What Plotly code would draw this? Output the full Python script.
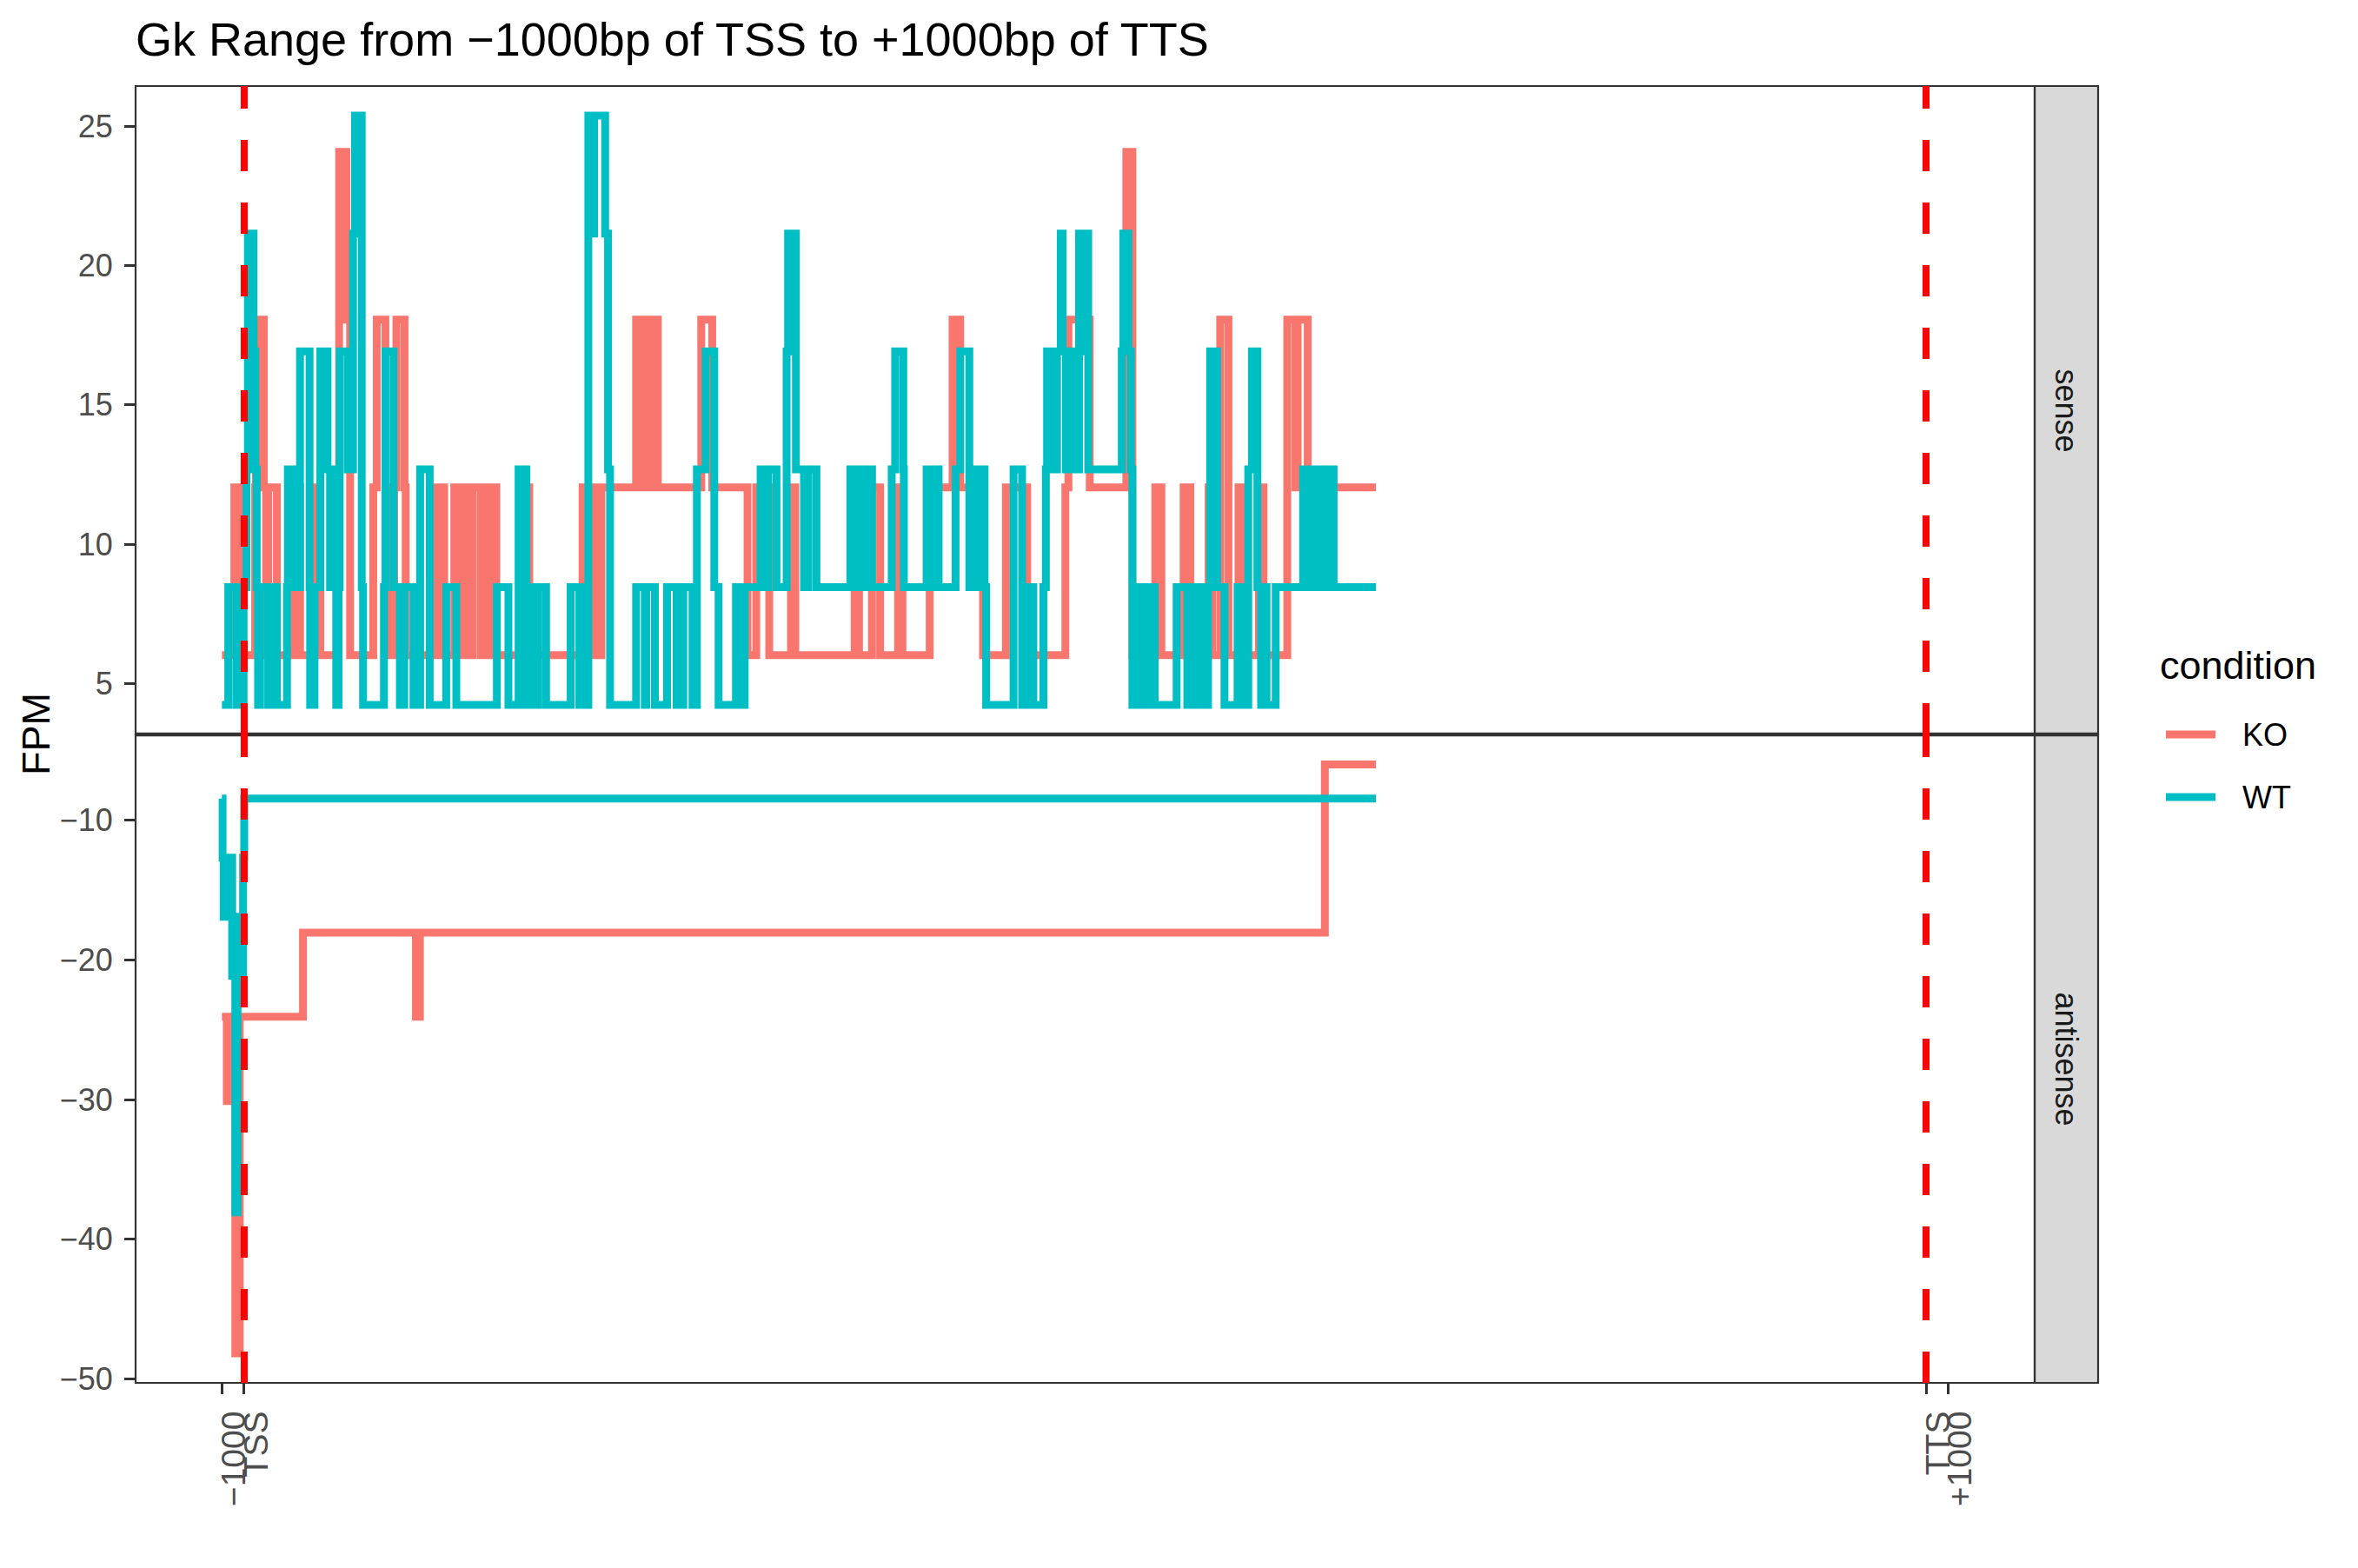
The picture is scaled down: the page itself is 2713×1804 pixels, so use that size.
import plotly.graph_objects as go

# ---------------- data (positions in bp relative to TSS, values in FPM) ----------------
gene_length = 75420          # TSS -> TTS distance (bp)
data_end = 50750             # last covered position

x_tick_pos = [-1000, 0, gene_length, gene_length + 1000]
x_tick_labels = ["\u22121000", "TSS", "TTS", "+1000"]

sense_ticks = [5, 10, 15, 20, 25]
antisense_ticks = [-50, -40, -30, -20, -10]
antisense_tick_labels = ["\u221250", "\u221240", "\u221230", "\u221220", "\u221210"]

# WT, sense strand: step starts and values
wt_sense_pos = [-1000, -716, -352, -28, 102, 167, 420, 500, 560, 621, 712, 1075, 1114, 1465,
                1919, 1958, 2244, 2503, 2931, 2957, 3152, 3412, 3736, 3850, 3950, 4126,
                4230, 4280, 4645, 4880, 4969, 5270, 5330, 6267, 6332, 6696, 6981, 7176, 7591,
                7890, 8318, 9058, 9512, 11330, 11849, 12303, 12653, 12757, 13100, 13180, 13536,
                14639, 15029, 15173, 15330, 15432, 15627, 15692, 16185, 16315, 16406,
                17574, 17964, 18028, 18418, 18963, 19391, 19690, 20105,
                20300, 20689, 21079, 21273, 22052, 22150, 22250, 22350, 22442,
                23156, 23400, 23500, 23870, 24324, 24389, 24740, 25103, 25297, 25661,
                27179, 27504, 27569, 27850, 27900, 28153, 29036, 29191, 29555, 29581,
                30600, 30850, 30900, 31140, 31900, 32107, 32517, 32859, 33200, 33269,
                34499, 34882, 35046, 35388, 35839, 35950, 36003, 36150, 36230, 36380, 36450,
                36618, 36700, 36850, 36920, 37165, 37438, 37600, 37700, 37848,
                39352, 39420, 39650, 39762, 39830, 39899, 40241, 40582, 40828,
                41812, 42291, 42428, 42700, 42760, 43043, 43221, 43316, 43630, 43959,
                44546, 44888, 45025, 45189, 45435, 45600, 45650, 45845, 46255,
                47486, 47750, 47800, 48050, 48100, 48306, 48511, 48853]
wt_sense_fpm = [4.23, 8.46, 4.23, 8.46, 12.69, 21.15, 16.92, 12.69, 8.46, 4.23, 8.46, 4.23, 8.46, 4.23,
                8.46, 12.69, 8.46, 16.92, 8.46, 4.23, 8.46, 16.92, 12.69, 8.46, 12.69, 4.23,
                8.46, 16.92, 12.69, 21.15, 25.38, 8.46, 4.23, 8.46, 16.92, 8.46, 4.23, 8.46, 4.23,
                12.69, 4.23, 8.46, 4.23, 8.46, 4.23, 12.69, 4.23, 8.46, 4.23, 8.46, 4.23,
                8.46, 4.23, 8.46, 4.23, 25.38, 21.15, 25.38, 21.15, 12.69, 4.23,
                8.46, 4.23, 8.46, 4.23, 8.46, 4.23, 8.46, 4.23,
                12.69, 16.92, 8.46, 4.23, 8.46, 4.23, 8.46, 4.23, 8.46,
                12.69, 8.46, 12.69, 8.46, 16.92, 21.15, 12.69, 8.46, 12.69, 8.46,
                12.69, 8.46, 12.69, 8.46, 12.69, 8.46, 12.69, 16.92, 12.69, 8.46,
                12.69, 8.46, 12.69, 8.46, 12.69, 16.92, 8.46, 12.69, 8.46, 4.23,
                12.69, 4.23, 8.46, 4.23, 8.46, 12.69, 16.92, 12.69, 16.92, 12.69, 16.92,
                21.15, 16.92, 12.69, 16.92, 12.69, 21.15, 16.92, 21.15, 12.69,
                16.92, 21.15, 16.92, 12.69, 4.23, 8.46, 4.23, 8.46, 4.23,
                8.46, 4.23, 8.46, 4.23, 8.46, 4.23, 8.46, 16.92, 8.46, 4.23,
                8.46, 4.23, 12.69, 16.92, 8.46, 4.23, 8.46, 4.23, 8.46,
                12.69, 8.46, 12.69, 8.46, 12.69, 8.46, 12.69, 8.46]

# KO, sense strand
ko_sense_pos = [-1000, -443, -93, 491, 530, 881, 984, 1075, 1465, 2244, 2503, 3191, 3412,
                4190, 4255, 4580, 4749, 5787, 5943, 6332, 6397, 6722, 6825, 7189, 7241,
                8643, 8967, 9421, 9772, 9902, 10200, 10250, 10616, 10746, 11000, 11050, 11304,
                12563, 12783, 15173, 15757, 16017, 17574, 17850, 17900, 18158, 18223, 18548,
                20495, 20988, 22571, 22961, 23545, 24518, 24713, 27374, 27569, 28153, 28516,
                29321, 29516, 30740, 31765, 32107, 33132, 34157, 35114, 36823, 36960, 37917,
                39557, 39830, 40856, 41129, 42127, 42428, 43248, 43400, 43767, 44136,
                44587, 44888, 45503, 45708, 46775, 47144, 47240, 47691]
ko_sense_fpm = [6.02, 12.04, 6.02, 12.04, 18.06, 12.04, 6.02, 12.04, 6.02, 12.04, 6.02, 12.04, 6.02,
                12.04, 24.08, 18.06, 6.02, 12.04, 18.06, 12.04, 6.02, 12.04, 18.06, 12.04, 6.02,
                12.04, 6.02, 12.04, 6.02, 12.04, 6.02, 12.04, 6.02, 12.04, 6.02, 12.04, 6.02,
                12.04, 6.02, 12.04, 6.02, 12.04, 18.06, 12.04, 18.06, 12.04, 18.06, 12.04,
                18.06, 12.04, 6.02, 12.04, 6.02, 12.04, 6.02, 12.04, 6.02, 12.04, 6.02,
                12.04, 6.02, 12.04, 18.06, 12.04, 6.02, 12.04, 6.02, 12.04, 18.06, 12.04,
                24.08, 6.02, 12.04, 6.02, 12.04, 6.02, 12.04, 6.02, 18.06, 6.02,
                12.04, 6.02, 12.04, 6.02, 18.06, 12.04, 18.06, 12.04]

# WT, antisense strand
wt_anti_pos = [-1000, -970, -920, -860, -800, -740, -680, -600, -540, -470, -400, -300, -200,
               -120, -50, 0]
wt_anti_fpm = [-8.46, -12.69, -16.92, -12.69, -16.92, -12.69, -16.92, -12.69, -21.15, -16.92,
               -38.07, -21.15, -16.92, -21.15, -12.69, -8.46]

# KO, antisense strand
ko_anti_pos = [-1000, -780, -700, -400, -200, 2636, 7700, 7880, 48460]
ko_anti_fpm = [-24.08, -30.10, -24.08, -48.16, -24.08, -18.06, -24.08, -18.06, -6.02]

# ---------------- styling ----------------
KO_COL = "#F8766D"
WT_COL = "#00BFC4"
FONT = "Liberation Sans, Arial, Helvetica, sans-serif"
W, H = 2713, 1804
L, R, T, B = 156, 372, 99, 213
PW = W - L - R
PH = H - T - B
LW = 9


def px_x(px):
    return (px - L) / PW


def px_y(py):
    return (H - B - py) / PH


def step(pos, val):
    return list(pos) + [data_end], list(val) + [val[-1]]


fig = go.Figure()

for (pos, val, col, ya) in [
    (ko_sense_pos, ko_sense_fpm, KO_COL, "y"),
    (wt_sense_pos, wt_sense_fpm, WT_COL, "y"),
    (ko_anti_pos, ko_anti_fpm, KO_COL, "y2"),
    (wt_anti_pos, wt_anti_fpm, WT_COL, "y2"),
]:
    xs, ys = step(pos, val)
    fig.add_trace(go.Scatter(x=xs, y=ys, mode="lines", xaxis="x", yaxis=ya,
                             line=dict(color=col, width=LW, shape="hv"),
                             showlegend=False, hoverinfo="skip"))

shapes = []
# panel borders
for (y0, y1) in [(0, 0.5), (0.5, 1)]:
    shapes.append(dict(type="rect", xref="paper", yref="paper", x0=0, x1=1, y0=y0, y1=y1,
                       line=dict(color="#333333", width=2.2), fillcolor="rgba(0,0,0,0)", layer="above"))
# strips
sw = 73 / PW
for (y0, y1) in [(0, 0.5), (0.5, 1)]:
    shapes.append(dict(type="rect", xref="paper", yref="paper", x0=1, x1=1 + sw, y0=y0, y1=y1,
                       line=dict(color="#333333", width=2.2), fillcolor="#D9D9D9", layer="below"))
shapes.append(dict(type="line", xref="paper", yref="paper", x0=0, x1=1 + sw, y0=0.5, y1=0.5,
                   line=dict(color="#333333", width=4.5), layer="above"))
# red dashed TSS / TTS lines, each panel drawn from bottom to top
for xv in [0, gene_length]:
    for yr in ["y domain", "y2 domain"]:
        shapes.append(dict(type="line", xref="x", yref=yr, x0=xv, x1=xv, y0=0, y1=1,
                           line=dict(color="#FF0000", width=8, dash="36px,36px"), layer="above"))
# legend swatches
for (py, col) in [(845, KO_COL), (917, WT_COL)]:
    shapes.append(dict(type="line", xref="paper", yref="paper", x0=px_x(2492), x1=px_x(2549),
                       y0=px_y(py), y1=px_y(py), line=dict(color=col, width=9)))

annotations = [
    dict(text="sense", xref="paper", yref="paper", x=1 + sw / 2, y=0.75, textangle=90,
         showarrow=False, font=dict(family=FONT, size=36, color="#1A1A1A"),
         xanchor="center", yanchor="middle"),
    dict(text="antisense", xref="paper", yref="paper", x=1 + sw / 2, y=0.25, textangle=90,
         showarrow=False, font=dict(family=FONT, size=36, color="#1A1A1A"),
         xanchor="center", yanchor="middle"),
    dict(text="FPM", xref="paper", yref="paper", x=px_x(41), y=0.5, textangle=-90,
         showarrow=False, font=dict(family=FONT, size=45, color="black"),
         xanchor="center", yanchor="middle"),
    dict(text="condition", xref="paper", yref="paper", x=px_x(2483), y=px_y(765),
         showarrow=False, font=dict(family=FONT, size=45, color="black"),
         xanchor="left", yanchor="middle"),
    dict(text="KO", xref="paper", yref="paper", x=px_x(2578), y=px_y(845),
         showarrow=False, font=dict(family=FONT, size=36, color="black"),
         xanchor="left", yanchor="middle"),
    dict(text="WT", xref="paper", yref="paper", x=px_x(2578), y=px_y(917),
         showarrow=False, font=dict(family=FONT, size=36, color="black"),
         xanchor="left", yanchor="middle"),
]

axis_common = dict(showgrid=False, zeroline=False, showline=False, ticks="outside",
                   ticklen=12, tickwidth=3, tickcolor="#333333")
tick_font = dict(family=FONT, size=36, color="#4D4D4D")

pad = 0.05 * (gene_length + 2000)
fig.update_layout(
    width=W, height=H,
    margin=dict(l=L, r=R, t=T, b=B, pad=0),
    paper_bgcolor="white", plot_bgcolor="white",
    showlegend=False,
    title=dict(text="Gk Range from \u22121000bp of TSS to +1000bp of TTS",
               x=0, xref="paper", xanchor="left", y=1 - 45 / H, yref="container", yanchor="middle",
               font=dict(family=FONT, size=54, color="black")),
    xaxis=dict(domain=[0, 1], anchor="y2", range=[-1000 - pad, gene_length + 1000 + pad],
               tickmode="array", tickvals=x_tick_pos, ticktext=x_tick_labels, tickangle=-90,
               ticklabelstandoff=4, ticklabelshift=14,
               tickfont=dict(family=FONT, size=39, color="#4D4D4D"), **axis_common),
    yaxis=dict(domain=[0.5, 1], anchor="x", range=[3.173, 26.443], tickmode="array",
               tickvals=sense_ticks, ticktext=[str(v) for v in sense_ticks],
               ticklabelstandoff=6, tickfont=tick_font, **axis_common),
    yaxis2=dict(domain=[0, 0.5], anchor="x", range=[-50.27, -3.88], tickmode="array",
                tickvals=antisense_ticks, ticktext=antisense_tick_labels,
                ticklabelstandoff=6, tickfont=tick_font, **axis_common),
    shapes=shapes,
    annotations=annotations,
)

fig.write_html("out.html")
